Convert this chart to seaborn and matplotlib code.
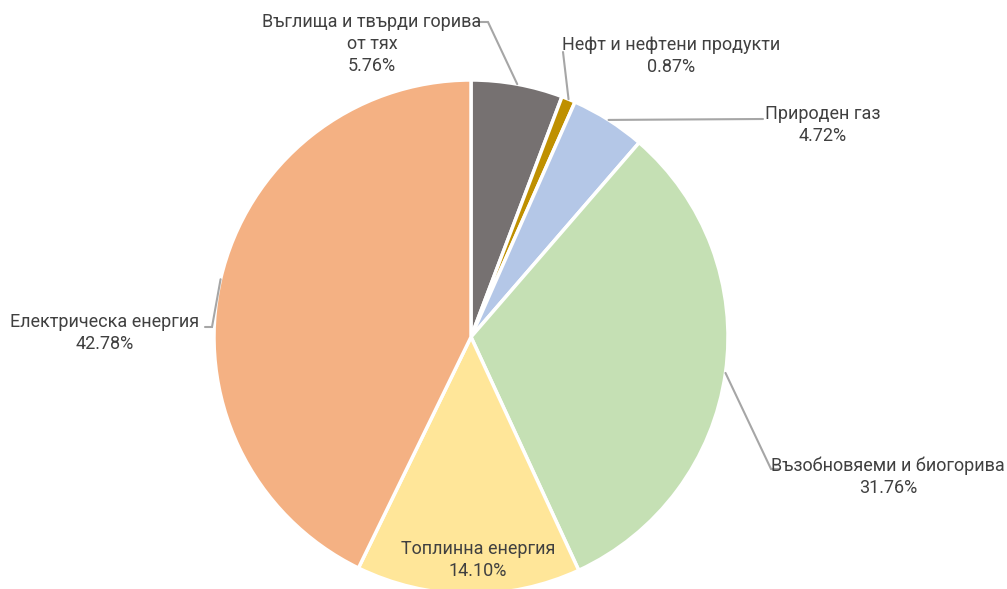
import matplotlib.pyplot as plt
import numpy as np
import seaborn as sns

# shares of final energy consumption, % (clockwise from 12 o'clock)
labels = ["Въглища и твърди горива\nот тях", "Нефт и нефтени продукти", "Природен газ",
          "Възобновяеми и биогорива", "Топлинна енергия", "Електрическа енергия"]
shares = [5.76, 0.87, 4.72, 31.76, 14.10, 42.78]
colors = ["#767171", "#BF9000", "#B4C7E7", "#C5E0B4", "#FFE699", "#F4B183"]

sns.set_theme(style="white")
plt.rcParams["font.family"] = ["Roboto", "DejaVu Sans"]

fig = plt.figure(figsize=(10.07, 5.89), dpi=100)
ax = fig.add_axes([0, 0, 1, 1])

wedges, _ = ax.pie(shares, colors=colors, startangle=90, counterclock=False, radius=1,
                   wedgeprops=dict(edgecolor="white", linewidth=2.5))

# pixel -> data helper (pie centre at px (471, 337), radius 257 px)
cx, cy, R = 471, 337, 257
def px(x, y):
    return ((x - cx) / R, (cy - y) / R)

ax.set_xlim(px(0, 0)[0], px(1007, 0)[0])
ax.set_ylim(px(0, 589)[1], px(0, 0)[1])
ax.set_aspect("equal")
ax.axis("off")

# label layout: text centre and leader elbow points (pixels)
text_pos = [(372, 44), (671, 56), (823, 125), (888, 477), (478, 560), (105, 333)]
leaders = [
    [(477, 22), (488, 22)],
    [(563, 52)],
    [(763, 119)],
    [(779, 469), (771, 469)],
    None,
    [(205, 327), (212, 327)],
]

for w, lab, val, tp, ld in zip(wedges, labels, shares, text_pos, leaders):
    mid = np.deg2rad((w.theta1 + w.theta2) / 2)
    anchor = (np.cos(mid), np.sin(mid))
    tx, ty = px(*tp)
    ax.text(tx, ty, f"{lab}\n{val:.2f}%", ha="center", va="center",
            fontsize=13, color="#404040", linespacing=1.3)
    if ld is not None:
        pts = [px(*p) for p in ld] + [anchor]
        ax.plot([p[0] for p in pts], [p[1] for p in pts], color="#A6A6A6", lw=1.5,
                solid_joinstyle="miter")

fig.savefig("out.png", dpi=100, facecolor="white")
